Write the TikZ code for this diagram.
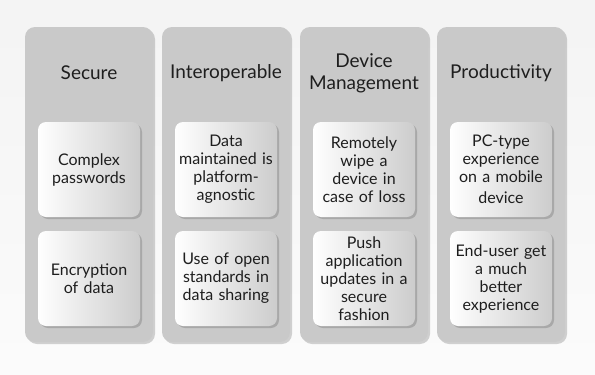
\documentclass[tikz,border=0pt]{standalone}
\usepackage{fontspec}
\setmainfont{Lato}
\usetikzlibrary{shadows}
\definecolor{colgray}{HTML}{C9C9C9}
\definecolor{inkgray}{HTML}{1E1E1E}
\tikzset{
  column/.style={fill=colgray,rounded corners=10pt,minimum width=128pt,
    minimum height=315pt,inner sep=0pt,
    drop shadow={shadow xshift=2pt,shadow yshift=-2pt,opacity=.35}},
  title/.style={align=center,font=\fontsize{19}{22}\selectfont,text=inkgray},
  card/.style={rounded corners=8pt,minimum width=102pt,minimum height=95pt,
    inner sep=1pt,text width=100pt,align=center,
    left color=white,middle color=white,right color=gray!40,
    font=\fontsize{16}{18}\selectfont,text=inkgray,
    drop shadow={shadow xshift=2pt,shadow yshift=-2pt,opacity=.45}}
}
\begin{document}
\begin{tikzpicture}[x=1pt,y=-1pt]
  \useasboundingbox (0,0) rectangle (595,375);
  \shade[top color=gray!9,bottom color=gray!3] (0,0) rectangle (595,375);
  % columns
  \node[column] (secure) at (89,184.5) {};
  \node[column] (interop) at (226,184.5) {};
  \node[column] (device) at (364,184.5) {};
  \node[column] (product) at (501,184.5) {};
  % titles
  \node[title] (secureT) at (89,73) {Secure};
  \node[title] (interopT) at (226,73) {Interoperable};
  \node[title] (deviceT) at (364,73) {Device\\Management};
  \node[title] (productT) at (501,73) {Productivity};
  % cards
  \node[card] (passwd) at (89,169.5) {Complex\\passwords};
  \node[card] (encrypt) at (89,278.5) {Encryption\\of data};
  \node[card] (agnostic) at (226,169.5) {Data\\maintained is\\platform-\\agnostic};
  \node[card] (openstd) at (226,278.5) {Use of open\\standards in\\data sharing};
  \node[card] (wipe) at (364,169.5) {Remotely\\wipe a\\device in\\case of loss};
  \node[card] (push) at (364,278.5) {Push\\application\\updates in a\\secure\\fashion};
  \node[card] (pctype) at (501,169.5) {PC-type\\experience\\on a mobile\\[3pt]device};
  \node[card] (enduser) at (501,278.5) {End-user get\\a much\\better\\experience};
\end{tikzpicture}
\end{document}
